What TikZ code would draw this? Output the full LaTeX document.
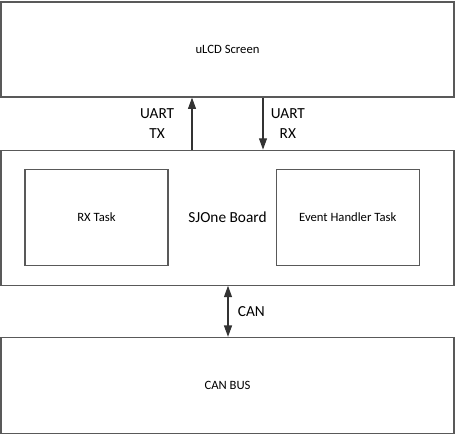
\documentclass[tikz,border=0pt]{standalone}
\usepackage{fontspec}
\setmainfont{Carlito}
\usetikzlibrary{positioning, calc, arrows.meta}

\begin{document}
\begin{tikzpicture}[x=0.75pt, y=-0.75pt,
    blk/.style={draw=black!65, line width=0.9pt, fill=white, inner sep=0pt, font=\fontsize{9.5}{11}\selectfont},
    wide/.style={blk, minimum width=339.75pt},
    task/.style={blk, minimum width=107.25pt, minimum height=72pt},
    link/.style={draw=black!80, line width=0.8pt, -{Triangle[length=8.5pt, width=6pt]}},
    lbl/.style={inner sep=0pt, align=center, font=\fontsize{11.5}{15}\selectfont}]
        %bordi della figura
        \useasboundingbox (0,0) rectangle (459,437);
        %blocchi principali
        \node[wide, minimum height=71.25pt] (lcd) at (227.5,49.5) {uLCD Screen};
        \node[wide, minimum height=101.25pt, below=39pt of lcd, font=\fontsize{11.5}{14}\selectfont] (board) {SJOne Board};
        \node[wide, minimum height=72pt, below=38.25pt of board] (canbus) {CAN BUS};
        %task dentro la scheda
        \node[task, anchor=west] (rxtask) at ($(board.west)+(24,-0.5)$) {RX Task};
        \node[task, right=80.25pt of rxtask] (evtask) {Event Handler Task};
        %collegamenti UART
        \draw[link] ($(board.north)+(-35.5,0)$) -- ($(lcd.south)+(-35.5,0)$)
            node[lbl, midway, left=13pt] (txlbl) {UART\\TX};
        \draw[link] ($(lcd.south)+(35.5,0)$) -- ($(board.north)+(35.5,0)$)
            node[lbl, midway, right=5.5pt] (rxlbl) {UART\\RX};
        %collegamento CAN
        \draw[link, {Triangle[length=8.5pt, width=6pt]}-{Triangle[length=8.5pt, width=6pt]}] ($(board.south)+(0.5,0)$) -- ($(canbus.north)+(0.5,0)$)
            node[lbl, midway, right=7pt] (canlbl) {CAN};
\end{tikzpicture}
\end{document}
